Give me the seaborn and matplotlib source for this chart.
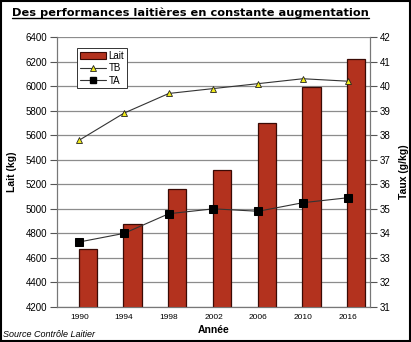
import numpy as np
import pandas as pd
import matplotlib
matplotlib.use("Agg")
import matplotlib.pyplot as plt
import seaborn as sns
from matplotlib.patches import Patch, Rectangle
from matplotlib.lines import Line2D

years = ["1990", "1994", "1998", "2002", "2006", "2010", "2016"]
lait = [4670, 4880, 5160, 5320, 5700, 5990, 6220]
tb = [37.8, 38.9, 39.7, 39.9, 40.1, 40.3, 40.2]
ta = [33.65, 34.0, 34.8, 35.0, 34.9, 35.25, 35.45]

sns.set_theme(style="white")
plt.rcParams['font.family'] = ['Liberation Sans', 'DejaVu Sans']
plt.rcParams.update({"text.color": "black", "axes.labelcolor": "black",
                     "xtick.color": "black", "ytick.color": "black"})

bar_color = "#B3321E"
grid_color = "#8c8c8c"

fig = plt.figure(figsize=(4.11, 3.42), dpi=100)
ax = fig.add_axes([0.1387, 0.1023, 0.9002 - 0.1387, 0.8918 - 0.1023])

df = pd.DataFrame({"Année": years, "Lait": lait})
sns.barplot(data=df, x="Année", y="Lait", color=bar_color, width=0.41,
            edgecolor="#3a0a05", linewidth=0.9, saturation=1, ax=ax, zorder=3)
for p in ax.patches:
    p.set_x(p.get_x() + 0.19)

ax.set_ylim(4200, 6400)
ax.set_yticks(np.arange(4200, 6401, 200))
ax.set_xlim(-0.5, len(years) - 0.5)
ax.set_xticks(np.arange(len(years)))
ax.set_xticklabels(years, fontsize=6)
ax.set_xticks(np.arange(-0.5, len(years), 1), minor=True)
ax.tick_params(axis="x", which="major", length=0, pad=5)
ax.tick_params(axis="x", which="minor", length=3, width=0.8, color="#555555", direction="out")
ax.tick_params(axis="y", length=5, width=0.8, color="#555555", labelcolor="black",
               direction="out", labelsize=7, pad=2)
ax.yaxis.grid(True, color=grid_color, linewidth=0.9, zorder=0)
ax.set_axisbelow(True)
ax.set_xlabel("Année", fontsize=7.5, fontweight="bold", labelpad=3)
ax.set_ylabel("Lait (kg)", fontsize=7.5, fontweight="bold", labelpad=6)
for s in ax.spines.values():
    s.set_color("#777777")
    s.set_linewidth(0.8)
ax.spines["top"].set_visible(False)

ax2 = ax.twinx()
pos = np.arange(len(years))
sns.lineplot(x=pos, y=tb, ax=ax2, color="#333333", linewidth=0.8, marker="^",
             markersize=5, markerfacecolor="#F2EC1A", markeredgecolor="#222222",
             markeredgewidth=0.6, zorder=4)
sns.lineplot(x=pos, y=ta, ax=ax2, color="#333333", linewidth=0.8, marker="s",
             markersize=5.5, markerfacecolor="black", markeredgecolor="black", zorder=4)
ax2.set_ylim(31, 42)
ax2.set_yticks(np.arange(31, 43, 1))
ax2.tick_params(axis="y", length=5, width=0.8, color="#555555", labelcolor="black",
                direction="out", labelsize=7, pad=2)
ax2.set_ylabel("Taux (g/kg)", fontsize=7.5, fontweight="bold", labelpad=6)
for s in ax2.spines.values():
    s.set_color("#777777")
    s.set_linewidth(0.8)
ax2.spines["top"].set_visible(False)
ax2.grid(False)

handles = [
    Patch(facecolor=bar_color, edgecolor="#3a0a05", linewidth=0.8),
    Line2D([], [], color="#333333", lw=0.8, marker="^", markersize=4.5,
           markerfacecolor="#F2EC1A", markeredgecolor="#222222", markeredgewidth=0.6),
    Line2D([], [], color="#333333", lw=0.8, marker="s", markersize=5,
           markerfacecolor="black", markeredgecolor="black"),
]
leg = ax2.legend(handles, ["Lait", "TB", "TA"], loc="upper left",
                 bbox_to_anchor=(0.065, 0.96), fontsize=7, frameon=True,
                 fancybox=False, edgecolor="#333333", framealpha=1,
                 handlelength=2.6, handletextpad=0.3, borderpad=0.3,
                 labelspacing=0.25, borderaxespad=0)
leg.get_frame().set_linewidth(0.7)

title = fig.text(0.03, 0.962, "Des performances laitières en constante augmentation",
                 fontsize=8.2, fontweight="bold", family=["DejaVu Sans"],
                 color="black", ha="left", va="center")
fig.text(0.008, 0.022, "Source Contrôle Laitier", fontsize=6.5, style="italic",
         ha="left", va="center")

fig.canvas.draw()
bb = title.get_window_extent().transformed(fig.transFigure.inverted())
fig.add_artist(Line2D([bb.x0, bb.x1], [bb.y0 + 0.002, bb.y0 + 0.002],
                      transform=fig.transFigure, color="black", lw=1.0))
fig.add_artist(Rectangle((0.002, 0.002), 0.996, 0.996, transform=fig.transFigure,
                         fill=False, edgecolor="black", lw=1.5))

fig.savefig("out.png", dpi=100)
